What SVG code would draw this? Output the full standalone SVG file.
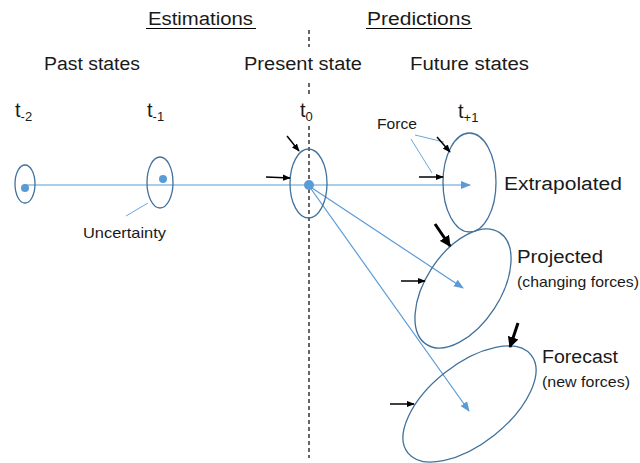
<svg xmlns="http://www.w3.org/2000/svg" width="640" height="463" viewBox="0 0 640 463">
<defs>
<style>
text{font-family:"Liberation Sans",Arial,sans-serif;fill:#1a1a1a}
.h{font-size:18px}
.t{font-size:20px}
.lab{font-size:18px}
.sm{font-size:14.5px}
.st{fill:none;stroke:#41719C;stroke-width:1.3}
.dot{fill:#5B9BD5}
.conn{stroke:#5B9BD5;stroke-width:1.2;fill:none}
.ptr{stroke:#5B9BD5;stroke-width:0.9;fill:none}
.f{stroke:#000;stroke-width:1.5;fill:none}
.fb{stroke:#000;stroke-width:3;fill:none}
.dash{stroke:#000;stroke-width:1.2;stroke-dasharray:4 3}
</style>
<marker id="ab" viewBox="0 0 10 10" refX="9" refY="5" markerWidth="10" markerHeight="10" markerUnits="userSpaceOnUse" orient="auto"><path d="M0,1 L10,5 L0,9 z" fill="#5B9BD5"/></marker>
<marker id="ak" viewBox="0 0 10 10" refX="9" refY="5" markerWidth="8" markerHeight="8" markerUnits="userSpaceOnUse" orient="auto"><path d="M0,1 L10,5 L0,9 z" fill="#000"/></marker>
<marker id="akb" viewBox="0 0 10 10" refX="9" refY="5" markerWidth="11" markerHeight="11" markerUnits="userSpaceOnUse" orient="auto"><path d="M0,0 L10,5 L0,10 z" fill="#000"/></marker>
</defs>
<rect width="640" height="463" fill="#fff"/>

<g id="headers">
<text class="h" x="148" y="25" textLength="105" lengthAdjust="spacingAndGlyphs">Estimations</text>
<line x1="146" y1="28.5" x2="256" y2="28.5" stroke="#000" stroke-width="1.2"/>
<text class="h" x="367" y="25" textLength="104" lengthAdjust="spacingAndGlyphs">Predictions</text>
<line x1="366" y1="28.5" x2="472" y2="28.5" stroke="#000" stroke-width="1.2"/>
<text class="h" x="44" y="70" textLength="96" lengthAdjust="spacingAndGlyphs">Past states</text>
<text class="h" x="244" y="70" textLength="118" lengthAdjust="spacingAndGlyphs">Present state</text>
<text class="h" x="410" y="70" textLength="119" lengthAdjust="spacingAndGlyphs">Future states</text>
</g>

<g id="divider">
<line class="dash" x1="309" y1="30" x2="309" y2="47"/>
<line class="dash" x1="309" y1="83" x2="309" y2="97"/>
<line class="dash" x1="309" y1="126" x2="309" y2="458"/>
</g>

<g id="time-labels">
<text class="t" x="15" y="117">t<tspan font-size="13" dy="4">-2</tspan></text>
<text class="t" x="147" y="117">t<tspan font-size="13" dy="4">-1</tspan></text>
<text class="t" x="300" y="117">t<tspan font-size="13" dy="4">0</tspan></text>
<text class="t" x="458" y="118">t<tspan font-size="13" dy="4">+1</tspan></text>
</g>

<g id="connectors">
<line class="conn" x1="25" y1="185" x2="470" y2="185" marker-end="url(#ab)"/>
<line class="conn" x1="309" y1="186" x2="463" y2="288" marker-end="url(#ab)"/>
<line class="conn" x1="309" y1="186" x2="469" y2="411" marker-end="url(#ab)"/>
<line class="ptr" x1="126" y1="216" x2="148" y2="203"/>
<line class="ptr" x1="415" y1="135" x2="444" y2="142"/>
<line class="ptr" x1="411" y1="139" x2="432" y2="173"/>
</g>

<g id="t-2">
<ellipse class="st" cx="25" cy="184" rx="10" ry="19"/>
<circle class="dot" cx="25" cy="188" r="4"/>
</g>
<g id="t-1">
<ellipse class="st" cx="160" cy="182.5" rx="13" ry="25.5"/>
<circle class="dot" cx="163" cy="179" r="4"/>
<text class="sm" x="83" y="238" textLength="83" lengthAdjust="spacingAndGlyphs">Uncertainty</text>
</g>
<g id="t0">
<ellipse class="st" cx="308.5" cy="183.5" rx="18.5" ry="34.5"/>
<circle class="dot" cx="309" cy="185" r="5"/>
<line class="f" x1="266" y1="177" x2="290" y2="178" marker-end="url(#ak)"/>
<line class="f" x1="287" y1="136" x2="299" y2="151" marker-end="url(#ak)"/>
</g>
<g id="extrapolated">
<ellipse class="st" cx="469.5" cy="182.5" rx="26.5" ry="49.5"/>
<line class="f" x1="419" y1="177" x2="443" y2="177" marker-end="url(#ak)"/>
<line class="f" x1="437" y1="137" x2="450" y2="152" marker-end="url(#ak)"/>
<text class="sm" x="377" y="129" textLength="40" lengthAdjust="spacingAndGlyphs">Force</text>
<text class="lab" x="504" y="190" textLength="118" lengthAdjust="spacingAndGlyphs">Extrapolated</text>
</g>
<g id="projected">
<ellipse class="st" cx="463" cy="288.5" rx="66.8" ry="37.2" transform="rotate(-56.8 463 288.5)"/>
<line class="fb" x1="435" y1="224" x2="450" y2="246" marker-end="url(#akb)"/>
<line class="f" x1="401" y1="281" x2="425" y2="281" marker-end="url(#ak)"/>
<text class="lab" x="517" y="263" textLength="86" lengthAdjust="spacingAndGlyphs">Projected</text>
<text class="sm" x="517" y="287" textLength="122" lengthAdjust="spacingAndGlyphs">(changing forces)</text>
</g>
<g id="forecast">
<ellipse class="st" cx="469.5" cy="404" rx="78.7" ry="39.8" transform="rotate(-38.4 469.5 404)"/>
<line class="fb" x1="518" y1="323" x2="510" y2="347" marker-end="url(#akb)"/>
<line class="f" x1="390" y1="404" x2="414" y2="404" marker-end="url(#ak)"/>
<text class="lab" x="542" y="363" textLength="76" lengthAdjust="spacingAndGlyphs">Forecast</text>
<text class="sm" x="542" y="387" textLength="88" lengthAdjust="spacingAndGlyphs">(new forces)</text>
</g>
</svg>
